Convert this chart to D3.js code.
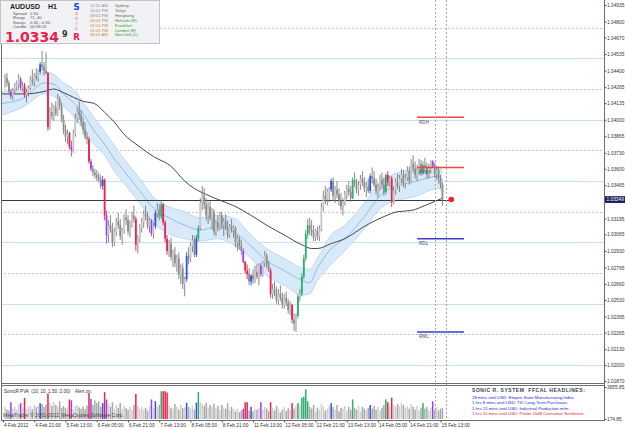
<!DOCTYPE html>
<html>
<head>
<meta charset="utf-8">
<script src="https://d3js.org/d3.v7.min.js"></script>
<style>
  body { margin: 0; background: #fff; }
  svg { display: block; font-family: "Liberation Sans", Arial, sans-serif; }
</style>
</head>
<body>
<script>
// AUDUSD H1 candles, 4 Feb - 15 Feb 2012
var opens = [1.0429,1.0434,1.0430,1.0423,1.0419,1.0424,1.0427,1.0429,1.0433,1.0426,
1.0428,1.0420,1.0422,1.0426,1.0433,1.0431,1.0436,1.0434,1.0439,1.0445,
1.0443,1.0440,1.0438,1.0394,1.0406,1.0403,1.0410,1.0405,1.0417,1.0411,
1.0400,1.0391,1.0386,1.0389,1.0378,1.0375,1.0389,1.0401,1.0407,1.0404,
1.0398,1.0392,1.0386,1.0384,1.0366,1.0360,1.0357,1.0355,1.0353,1.0351,
1.0346,1.0351,1.0322,1.0306,1.0314,1.0310,1.0300,1.0309,1.0317,1.0314,
1.0305,1.0310,1.0320,1.0318,1.0309,1.0315,1.0322,1.0319,1.0298,1.0303,
1.0312,1.0316,1.0323,1.0321,1.0313,1.0318,1.0307,1.0313,1.0324,1.0327,
1.0321,1.0331,1.0316,1.0303,1.0293,1.0299,1.0288,1.0290,1.0283,1.0287,
1.0274,1.0279,1.0266,1.0270,1.0289,1.0286,1.0297,1.0302,1.0290,1.0303,
1.0312,1.0332,1.0338,1.0331,1.0322,1.0329,1.0320,1.0325,1.0309,1.0316,
1.0312,1.0322,1.0314,1.0317,1.0312,1.0306,1.0313,1.0310,1.0312,1.0300,
1.0303,1.0297,1.0293,1.0284,1.0277,1.0274,1.0268,1.0273,1.0270,1.0276,
1.0272,1.0281,1.0274,1.0283,1.0289,1.0282,1.0277,1.0258,1.0262,1.0259,
1.0253,1.0258,1.0255,1.0249,1.0255,1.0251,1.0245,1.0249,1.0237,1.0234,
1.0240,1.0256,1.0258,1.0272,1.0287,1.0307,1.0314,1.0310,1.0308,1.0304,
1.0309,1.0305,1.0311,1.0329,1.0338,1.0335,1.0341,1.0343,1.0350,1.0338,
1.0343,1.0339,1.0334,1.0329,1.0333,1.0339,1.0344,1.0341,1.0336,1.0351,
1.0348,1.0343,1.0347,1.0352,1.0349,1.0344,1.0346,1.0342,1.0354,1.0352,
1.0347,1.0342,1.0345,1.0351,1.0347,1.0341,1.0355,1.0349,1.0352,1.0333,
1.0342,1.0349,1.0346,1.0352,1.0355,1.0348,1.0353,1.0358,1.0350,1.0364,
1.0360,1.0355,1.0360,1.0364,1.0357,1.0363,1.0361,1.0355,1.0360,1.0366,
1.0362,1.0356,1.0359,1.0352,1.0347];

var highs = [1.0437,1.0438,1.0432,1.0425,1.0426,1.0430,1.0432,1.0437,1.0435,1.0431,
1.0430,1.0425,1.0428,1.0436,1.0441,1.0438,1.0442,1.0441,1.0447,1.0456,
1.0447,1.0455,1.0439,1.0410,1.0414,1.0412,1.0415,1.0421,1.0419,1.0414,
1.0404,1.0396,1.0392,1.0390,1.0383,1.0392,1.0405,1.0410,1.0415,1.0408,
1.0402,1.0398,1.0390,1.0386,1.0368,1.0363,1.0360,1.0359,1.0357,1.0355,
1.0354,1.0352,1.0326,1.0318,1.0322,1.0316,1.0312,1.0320,1.0324,1.0319,
1.0312,1.0323,1.0327,1.0322,1.0318,1.0325,1.0330,1.0321,1.0306,1.0315,
1.0320,1.0326,1.0330,1.0325,1.0320,1.0319,1.0316,1.0326,1.0332,1.0331,
1.0334,1.0332,1.0318,1.0306,1.0302,1.0304,1.0294,1.0296,1.0290,1.0292,
1.0282,1.0283,1.0272,1.0292,1.0296,1.0300,1.0306,1.0305,1.0306,1.0314,
1.0336,1.0346,1.0344,1.0336,1.0333,1.0334,1.0328,1.0327,1.0318,1.0322,
1.0325,1.0325,1.0320,1.0323,1.0318,1.0315,1.0319,1.0314,1.0313,1.0306,
1.0305,1.0302,1.0295,1.0285,1.0282,1.0279,1.0274,1.0278,1.0281,1.0282,
1.0283,1.0283,1.0285,1.0293,1.0291,1.0285,1.0279,1.0266,1.0268,1.0264,
1.0262,1.0265,1.0259,1.0258,1.0260,1.0254,1.0252,1.0250,1.0242,1.0242,
1.0258,1.0262,1.0275,1.0290,1.0310,1.0319,1.0320,1.0318,1.0314,1.0311,
1.0313,1.0314,1.0332,1.0342,1.0346,1.0344,1.0345,1.0352,1.0353,1.0346,
1.0350,1.0344,1.0340,1.0336,1.0342,1.0347,1.0350,1.0346,1.0353,1.0357,
1.0352,1.0350,1.0355,1.0358,1.0353,1.0349,1.0352,1.0356,1.0361,1.0358,
1.0352,1.0348,1.0355,1.0357,1.0353,1.0356,1.0358,1.0354,1.0354,1.0345,
1.0352,1.0356,1.0355,1.0360,1.0359,1.0356,1.0362,1.0362,1.0368,1.0371,
1.0366,1.0363,1.0368,1.0367,1.0366,1.0369,1.0365,1.0364,1.0367,1.0367,
1.0365,1.0362,1.0361,1.0355,1.0349];

var lows = [1.0426,1.0427,1.0421,1.0417,1.0416,1.0421,1.0424,1.0425,1.0424,1.0423,
1.0418,1.0414,1.0419,1.0424,1.0428,1.0427,1.0432,1.0431,1.0437,1.0440,
1.0436,1.0437,1.0391,1.0392,1.0400,1.0399,1.0403,1.0403,1.0408,1.0398,
1.0388,1.0382,1.0380,1.0376,1.0370,1.0373,1.0386,1.0397,1.0400,1.0395,
1.0388,1.0384,1.0380,1.0364,1.0358,1.0354,1.0352,1.0350,1.0349,1.0344,
1.0343,1.0318,1.0299,1.0300,1.0308,1.0296,1.0297,1.0305,1.0311,1.0302,
1.0298,1.0307,1.0314,1.0306,1.0304,1.0312,1.0316,1.0293,1.0291,1.0300,
1.0308,1.0312,1.0318,1.0311,1.0308,1.0305,1.0303,1.0311,1.0320,1.0318,
1.0319,1.0314,1.0300,1.0290,1.0288,1.0285,1.0280,1.0280,1.0276,1.0270,
1.0266,1.0262,1.0256,1.0268,1.0282,1.0284,1.0292,1.0288,1.0288,1.0301,
1.0310,1.0326,1.0327,1.0318,1.0315,1.0318,1.0310,1.0306,1.0305,1.0309,
1.0310,1.0311,1.0305,1.0310,1.0303,1.0304,1.0308,1.0304,1.0296,1.0293,
1.0294,1.0290,1.0283,1.0275,1.0270,1.0265,1.0265,1.0266,1.0267,1.0270,
1.0265,1.0272,1.0272,1.0280,1.0279,1.0276,1.0255,1.0254,1.0256,1.0250,
1.0249,1.0252,1.0246,1.0246,1.0248,1.0242,1.0241,1.0234,1.0228,1.0227,
1.0238,1.0252,1.0256,1.0270,1.0285,1.0303,1.0306,1.0305,1.0301,1.0301,
1.0302,1.0301,1.0309,1.0325,1.0331,1.0330,1.0333,1.0341,1.0334,1.0332,
1.0336,1.0330,1.0326,1.0322,1.0330,1.0335,1.0338,1.0333,1.0335,1.0345,
1.0340,1.0338,1.0343,1.0346,1.0341,1.0337,1.0340,1.0340,1.0348,1.0345,
1.0339,1.0336,1.0342,1.0344,1.0338,1.0339,1.0346,1.0345,1.0329,1.0331,
1.0339,1.0343,1.0341,1.0348,1.0345,1.0344,1.0350,1.0347,1.0349,1.0357,
1.0352,1.0350,1.0355,1.0354,1.0355,1.0358,1.0352,1.0352,1.0356,1.0361,
1.0353,1.0351,1.0348,1.0344,1.0330];

var closes = [1.0434,1.0430,1.0423,1.0419,1.0424,1.0427,1.0429,1.0433,1.0426,1.0428,
1.0420,1.0422,1.0426,1.0433,1.0431,1.0436,1.0434,1.0439,1.0445,1.0443,
1.0440,1.0438,1.0394,1.0406,1.0403,1.0410,1.0405,1.0417,1.0411,1.0400,
1.0391,1.0386,1.0389,1.0378,1.0375,1.0389,1.0401,1.0407,1.0404,1.0398,
1.0392,1.0386,1.0384,1.0366,1.0360,1.0357,1.0355,1.0353,1.0351,1.0346,
1.0351,1.0322,1.0306,1.0314,1.0310,1.0300,1.0309,1.0317,1.0314,1.0305,
1.0310,1.0320,1.0318,1.0309,1.0315,1.0322,1.0319,1.0298,1.0303,1.0312,
1.0316,1.0323,1.0321,1.0313,1.0318,1.0307,1.0313,1.0324,1.0327,1.0321,
1.0331,1.0316,1.0303,1.0293,1.0299,1.0288,1.0290,1.0283,1.0287,1.0274,
1.0279,1.0266,1.0270,1.0289,1.0286,1.0297,1.0302,1.0290,1.0303,1.0312,
1.0332,1.0338,1.0331,1.0322,1.0329,1.0320,1.0325,1.0309,1.0316,1.0312,
1.0322,1.0314,1.0317,1.0312,1.0306,1.0313,1.0310,1.0312,1.0300,1.0303,
1.0297,1.0293,1.0284,1.0277,1.0274,1.0268,1.0273,1.0270,1.0276,1.0272,
1.0281,1.0274,1.0283,1.0289,1.0282,1.0277,1.0258,1.0262,1.0259,1.0253,
1.0258,1.0255,1.0249,1.0255,1.0251,1.0245,1.0249,1.0237,1.0234,1.0240,
1.0256,1.0258,1.0272,1.0287,1.0307,1.0314,1.0310,1.0308,1.0304,1.0309,
1.0305,1.0311,1.0329,1.0338,1.0335,1.0341,1.0343,1.0350,1.0338,1.0343,
1.0339,1.0334,1.0329,1.0333,1.0339,1.0344,1.0341,1.0336,1.0351,1.0348,
1.0343,1.0347,1.0352,1.0349,1.0344,1.0346,1.0342,1.0354,1.0352,1.0347,
1.0342,1.0345,1.0351,1.0347,1.0341,1.0355,1.0349,1.0352,1.0333,1.0342,
1.0349,1.0346,1.0352,1.0355,1.0348,1.0353,1.0358,1.0350,1.0364,1.0360,
1.0355,1.0360,1.0364,1.0357,1.0363,1.0361,1.0355,1.0360,1.0366,1.0362,
1.0356,1.0359,1.0352,1.0347,1.03349];

var volumes = [1500,1200,1100,2000,1300,1500,1200,1700,1900,1400,
2450,1300,1500,1600,1250,1700,1450,1600,1900,1800,
1500,1700,2950,1900,1600,2000,1700,1550,2100,1400,
1600,1350,1500,2300,2200,1200,1600,1700,1450,1300,
1550,1250,1650,3000,2350,1700,2200,1900,2100,1500,
1900,3100,2300,1800,1500,2000,1300,1700,1400,1900,
1250,1600,1350,1150,1500,1100,1700,2900,1600,1300,
1500,1200,1400,1100,1550,2300,1400,2100,1500,1700,
3200,3200,3200,3050,1600,1400,1300,1800,1500,1200,
1700,1350,1450,1950,1500,1300,1600,1200,1950,3100,
2000,1800,1600,1950,1400,1700,1500,1800,1300,1600,
1200,1700,1450,1300,1900,1100,1500,1250,1000,1300,
900,1100,1300,2000,2000,1100,1500,1000,1300,1200,
1400,2000,1200,1500,1300,1000,2000,1400,1100,1600,
1300,900,1200,1500,1050,1350,1150,1900,1300,1600,
1900,1700,2500,2600,3400,2100,1500,1300,1700,1000,
1400,1200,1800,1500,1100,1300,1600,1900,1500,1200,
1700,1000,1400,1300,1600,1100,1500,1200,2300,1400,
1200,1600,1000,1500,1300,1100,1400,1700,1300,1600,
1200,1500,1100,1400,1700,2300,2000,1500,2500,1700,
1500,1800,1600,1900,1700,1400,1600,1300,1800,1500,
1200,1600,1100,1400,1900,1300,1500,1100,1400,2100,
1200,1500,1100,1300,1400];

// SonicR PVA signal bars: r climax bear, g climax bull, b rising bull, p rising bear
var pvaIdx  = [3,8,10,18,22,33,34,43,44,50,51,52,67,75,77,80,81,82,83,93,98,99,122,123,124,126,131,136,147,150,152,153,154,155,167,178,187,195,196,198,214,219];
var pvaType = ["p","p","r","b","r","r","p","r","p","b","r","p","r","p","b","g","r","r","r","b","b","g","p","r","r","b","p","r","r","g","g","g","g","g","b","g","b","g","r","r","g","p"];

// dragon band (EMA34 high / close / low) and EMA89, sampled by bar
var bandIdx = [-3,10,20,25,30,35,40,46,51,56,61,69,76,84,92,100,109,117,126,134,143,152,156,160,167,174,184,194,211,222,224];
var bandUp  = [1.0423,1.0425,1.0439,1.0437,1.0430,1.0425,1.0414,1.0401,1.0390,1.0379,1.0368,1.0352,1.0337,1.0329,1.0325,1.0320,1.0322,1.0320,1.0306,1.0295,1.0287,1.0279,1.0278,1.0287,1.0306,1.0314,1.0332,1.0352,1.0360,1.0362,1.0358];
var bandMid = [1.0413,1.0418,1.0430,1.0429,1.0421,1.0414,1.0405,1.0390,1.0380,1.0368,1.0358,1.0342,1.0328,1.0320,1.0314,1.0310,1.0313,1.0309,1.0297,1.0285,1.0277,1.0269,1.0267,1.0279,1.0295,1.0303,1.0321,1.0341,1.0350,1.0354,1.0350];
var bandLow = [1.0403,1.0411,1.0421,1.0419,1.0411,1.0403,1.0392,1.0379,1.0371,1.0358,1.0348,1.0332,1.0316,1.0307,1.0303,1.0301,1.0303,1.0298,1.0287,1.0273,1.0265,1.0257,1.0258,1.0269,1.0282,1.0293,1.0311,1.0330,1.0338,1.0344,1.0340];

var emaIdx = [-3,10,20,25,30,40,46,51,56,61,68,76,85,92,109,117,126,134,143,152,157,160,167,174,184,194,201,208,215,221,224];
var emaVal = [1.0421,1.0421,1.0423,1.0425,1.0422,1.0415,1.0413,1.0406,1.0398,1.0388,1.0379,1.0370,1.0362,1.0350,1.0335,1.0330,1.0322,1.0314,1.0306,1.0298,1.0295,1.0295,1.0299,1.0303,1.0313,1.0321,1.0325,1.0326,1.0330,1.0334,1.0336];

var bid = 1.03349;

// range levels drawn near the last bars
var rangeNames  = ["RDH","RWH","RDL","RML"];
var rangePrices = [1.0402,1.0361,1.0303,1.0227];

var solidLevels  = [1.0450,1.0400,1.0350,1.0300,1.0250,1.0200];
var dashedLevels = [1.0475,1.0425,1.0375,1.0325,1.0275,1.0225];
var markerIdx = [220.3,225.8];

// 1.03330 sits under the bid tag, so it is left out
var priceTicks = [1.04935,1.04800,1.04670,1.04535,1.04400,1.04265,1.04135,1.04000,1.03865,1.03730,1.03600,1.03465,1.03195,1.03065,1.02930,1.02795,1.02660,1.02530,1.02395,1.02265,1.02130,1.02000,1.01870];
var dateIdx = [0,16,32,48,64,80,96,112,128,144,160,176,192,208,224];
var dateLabels = ["4 Feb 2012","4 Feb 21:00","5 Feb 13:00","6 Feb 05:00","6 Feb 21:00","7 Feb 13:00","8 Feb 05:00","8 Feb 21:00","11 Feb 13:00","12 Feb 05:00","12 Feb 21:00","13 Feb 13:00","14 Feb 05:00","14 Feb 21:00","15 Feb 13:00"];

var infoNames  = ["Spread","Range","Swaps","Candle"];
var infoValues = ["2.00","71, 40","0.40, -0.30","00:58:25"];
var sonicLetters = ["o","n","i","c"];
var sessionTimes  = ["12:01 AM","10:01 PM","09:01 PM","03:01 PM","02:01 PM","01:01 PM","08:01 AM"];
var sessionCities = ["Sydney","Tokyo","Hongkong","Helsinki (R)","Frankfurt","London (R)","NewYork (L)"];

var headTitle = "SONIC R. SYSTEM  FFCAL HEADLINES:";
var headItems = ["28 mins until USD: Empire State Manufacturing Index",
                 "1 hrs 8 mins until USD: TIC Long-Term Purchases",
                 "1 hrs 15 mins until USD: Industrial Production m/m",
                 "1 hrs 55 mins until USD: Prelim UoM Consumer Sentiment"];

var W = 625, H = 429;
var svg = d3.select("body").append("svg").attr("width", W).attr("height", H);
svg.append("rect").attr("width", W).attr("height", H).attr("fill", "#fff");

var n = closes.length;
var x = d3.scaleLinear().domain([0, n - 1]).range([5, 5 + (n - 1) * 1.953]);
var y = d3.scaleLinear().domain([1.0187, 1.04935]).range([381, 5]);
var yv = d3.scaleLinear().domain([174.85, 3655.85]).range([419, 387]);

svg.append("clipPath").attr("id", "main").append("rect")
  .attr("x", 2).attr("y", 0).attr("width", 602).attr("height", 383);
svg.append("clipPath").attr("id", "sub").append("rect")
  .attr("x", 2).attr("y", 386).attr("width", 602).attr("height", 34);

var main = svg.append("g").attr("clip-path", "url(#main)");

// round-number levels
main.selectAll(".lvl").data(solidLevels).enter().append("line")
  .attr("x1", 0).attr("x2", 604)
  .attr("y1", function(d) { return Math.round(y(d)) + 0.5; })
  .attr("y2", function(d) { return Math.round(y(d)) + 0.5; })
  .attr("stroke", "#c9dff3").attr("stroke-width", 1);
main.selectAll(".dlvl").data(dashedLevels).enter().append("line")
  .attr("x1", 0).attr("x2", 604)
  .attr("y1", function(d) { return Math.round(y(d)) + 0.5; })
  .attr("y2", function(d) { return Math.round(y(d)) + 0.5; })
  .attr("stroke", "#c8c8c8").attr("stroke-dasharray", "2,2");

// vertical dotted markers over both windows
svg.selectAll(".mk").data(markerIdx).enter().append("line")
  .attr("x1", function(d) { return Math.round(x(d)) + 0.5; })
  .attr("x2", function(d) { return Math.round(x(d)) + 0.5; })
  .attr("y1", 0).attr("y2", 420)
  .attr("stroke", "#a8a8a8").attr("stroke-dasharray", "2,2");

// dragon band
var band = bandIdx.map(function(d, i) { return {i: d, up: bandUp[i], mid: bandMid[i], lo: bandLow[i]}; });
main.append("path").datum(band)
  .attr("d", d3.area().curve(d3.curveMonotoneX)
    .x(function(d) { return x(d.i); })
    .y0(function(d) { return y(d.lo); })
    .y1(function(d) { return y(d.up); }))
  .attr("fill", "#d8e9f9");
["up", "lo"].forEach(function(k) {
  main.append("path").datum(band)
    .attr("d", d3.line().curve(d3.curveMonotoneX)
      .x(function(d) { return x(d.i); }).y(function(d) { return y(d[k]); }))
    .attr("fill", "none").attr("stroke", "#b3d3f1").attr("stroke-width", 0.8);
});
main.append("path").datum(band)
  .attr("d", d3.line().curve(d3.curveMonotoneX)
    .x(function(d) { return x(d.i); }).y(function(d) { return y(d.mid); }))
  .attr("fill", "none").attr("stroke", "#7fb2e3").attr("stroke-width", 0.8);

// EMA 89
main.append("path").datum(emaIdx.map(function(d, i) { return [d, emaVal[i]]; }))
  .attr("d", d3.line().curve(d3.curveMonotoneX)
    .x(function(d) { return x(d[0]); }).y(function(d) { return y(d[1]); }))
  .attr("fill", "none").attr("stroke", "#333").attr("stroke-width", 0.9);

// bid line
main.append("line")
  .attr("x1", 0).attr("x2", x(227.5))
  .attr("y1", Math.round(y(bid)) + 0.5).attr("y2", Math.round(y(bid)) + 0.5)
  .attr("stroke", "#3a3a3a");

// candles
var sig = {};
pvaIdx.forEach(function(d, i) { sig[d] = pvaType[i]; });
var pvaColor = {r: "#e8234f", g: "#2fae70", b: "#3452e0", p: "#a23ee8"};
var bars = d3.range(n);

function bodyColor(i) {
  if (sig[i]) return pvaColor[sig[i]];
  return closes[i] >= opens[i] ? "#c9c9c9" : "#8d8d8d";
}

main.selectAll(".wick").data(bars).enter().append("line")
  .attr("x1", function(i) { return x(i); }).attr("x2", function(i) { return x(i); })
  .attr("y1", function(i) { return y(highs[i]); }).attr("y2", function(i) { return y(lows[i]); })
  .attr("stroke", function(i) { return sig[i] ? pvaColor[sig[i]] : "#7b7b7b"; })
  .attr("stroke-width", 0.9);

main.selectAll(".body").data(bars).enter().append("rect")
  .attr("x", function(i) { return x(i) - 0.9; })
  .attr("width", 1.8)
  .attr("y", function(i) { return y(Math.max(opens[i], closes[i])); })
  .attr("height", function(i) { return Math.max(1, Math.abs(y(opens[i]) - y(closes[i]))); })
  .attr("fill", bodyColor);

// range lines
var rangeG = main.selectAll(".rng").data(rangePrices).enter().append("g");
rangeG.append("line")
  .attr("x1", x(211)).attr("x2", x(235))
  .attr("y1", function(d) { return y(d); }).attr("y2", function(d) { return y(d); })
  .attr("stroke", function(d, i) { return i < 2 ? "#f0463c" : "#3c3cc8"; })
  .attr("stroke-width", 1.4);
rangeG.append("text")
  .attr("x", x(212)).attr("y", function(d) { return y(d) + 6.5; })
  .attr("font-size", 4.6).attr("fill", "#4a4a78")
  .text(function(d, i) { return rangeNames[i]; });

// current price dot
main.append("circle").attr("cx", x(228.5)).attr("cy", y(bid)).attr("r", 2.8).attr("fill", "#ff1e1e");

// volume window
var sub = svg.append("g").attr("clip-path", "url(#sub)");
sub.selectAll(".vol").data(bars).enter().append("rect")
  .attr("x", function(i) { return x(i) - 0.75; })
  .attr("width", 1.5)
  .attr("y", function(i) { return yv(volumes[i]); })
  .attr("height", function(i) { return 419 - yv(volumes[i]); })
  .attr("fill", function(i) {
    if (sig[i]) return pvaColor[sig[i]];
    return closes[i] >= opens[i] ? "#cfcfcf" : "#a9a9a9";
  });

svg.append("text").attr("x", 4).attr("y", 392.5).attr("font-size", 4.6).attr("fill", "#333")
  .attr("xml:space", "preserve").text("SonicR PVA  (10, 10, 1.50, 2.00)    Alert on.");
svg.append("text").attr("x", 3).attr("y", 417).attr("font-size", 5).attr("fill", "#444")
  .text("MetaTrader \u00a9 2001-2012, MetaQuotes Software Corp.");

// headlines
svg.append("text").attr("x", 472).attr("y", 391.5).attr("font-size", 5).attr("font-weight", "bold")
  .attr("letter-spacing", 0.55).attr("fill", "#3c3c5a").attr("xml:space", "preserve").text(headTitle);
svg.selectAll(".hl").data(headItems).enter().append("text")
  .attr("x", 472).attr("y", function(d, i) { return 398.5 + i * 5.5; })
  .attr("font-size", 4.3)
  .attr("fill", function(d, i) { return i === 3 ? "#e5203c" : "#2323d8"; })
  .text(function(d) { return d; });

// frame
var frame = svg.append("g").attr("stroke", "#6e6e6e").attr("fill", "none");
frame.append("line").attr("x1", 1.5).attr("x2", 1.5).attr("y1", 0).attr("y2", 420);
frame.append("line").attr("x1", 1).attr("x2", 604).attr("y1", 383.5).attr("y2", 383.5);
frame.append("line").attr("x1", 1).attr("x2", 604).attr("y1", 385.5).attr("y2", 385.5);
frame.append("line").attr("x1", 1).attr("x2", 604).attr("y1", 420.5).attr("y2", 420.5);
frame.append("line").attr("x1", 604.5).attr("x2", 604.5).attr("y1", 0).attr("y2", 421);

// price axis
var yAxis = svg.append("g").attr("transform", "translate(604.5,0)")
  .call(d3.axisRight(y).tickValues(priceTicks).tickFormat(d3.format(".5f")).tickSize(2).tickPadding(0.5));
yAxis.select(".domain").remove();
yAxis.attr("font-size", 4.8).attr("font-family", "Liberation Sans, Arial, sans-serif");
yAxis.selectAll("line").attr("stroke", "#555");
yAxis.selectAll("text").attr("fill", "#333");

// current price tag
svg.append("rect").attr("x", 605).attr("y", y(bid) - 3.4).attr("width", 20).attr("height", 6.8).attr("fill", "#1d1d5c");
svg.append("text").attr("x", 606.5).attr("y", y(bid) + 1.7).attr("font-size", 4.8).attr("fill", "#fff")
  .text(d3.format(".5f")(bid));

// volume axis
var vAxis = svg.append("g").attr("transform", "translate(604.5,0)")
  .call(d3.axisRight(yv).tickValues([3655.85, 174.85]).tickFormat(d3.format(".2f")).tickSize(2).tickPadding(0.5));
vAxis.select(".domain").remove();
vAxis.attr("font-size", 4.8).attr("font-family", "Liberation Sans, Arial, sans-serif");
vAxis.selectAll("line").attr("stroke", "#555");
vAxis.selectAll("text").attr("fill", "#333");

// time axis
var xAxis = svg.append("g").attr("transform", "translate(0,420.5)")
  .call(d3.axisBottom(x).tickValues(dateIdx).tickFormat(function(d, i) { return dateLabels[i]; }).tickSize(2).tickPadding(1));
xAxis.select(".domain").remove();
xAxis.attr("font-size", 4.8).attr("font-family", "Liberation Sans, Arial, sans-serif").attr("text-anchor", "start");
xAxis.selectAll("line").attr("stroke", "#555").attr("transform", "translate(-2,0)");
xAxis.selectAll("text").attr("x", -1.5).attr("fill", "#333");

// info panel
var panel = svg.append("g");
panel.append("rect").attr("x", 0.5).attr("y", 0.5).attr("width", 159).attr("height", 43)
  .attr("fill", "#f2f2f5").attr("stroke", "#c2c2ca");
panel.append("text").attr("x", 10).attr("y", 9).attr("font-size", 7).attr("font-weight", "bold")
  .attr("fill", "#1e1e1e").text("AUDUSD");
panel.append("text").attr("x", 48).attr("y", 9).attr("font-size", 7).attr("font-weight", "bold")
  .attr("fill", "#1e1e1e").text("H1");
panel.selectAll(".inf").data(infoNames).enter().append("text")
  .attr("x", 13).attr("y", function(d, i) { return 14.8 + i * 4.5; })
  .attr("font-size", 4.2).attr("fill", "#555").text(function(d) { return d; });
panel.selectAll(".infv").data(infoValues).enter().append("text")
  .attr("x", 30).attr("y", function(d, i) { return 14.8 + i * 4.5; })
  .attr("font-size", 4.2).attr("fill", "#555").text(function(d) { return d; });
panel.append("text").attr("x", 5).attr("y", 42).attr("font-size", 14).attr("font-weight", "bold")
  .attr("font-family", "DejaVu Sans, sans-serif").attr("fill", "#e8214e").text("1.0334");
panel.append("text").attr("x", 62).attr("y", 37).attr("font-size", 8).attr("font-weight", "bold")
  .attr("font-family", "DejaVu Sans, sans-serif").attr("fill", "#333").text("9");
panel.append("text").attr("x", 76.5).attr("y", 9.5).attr("font-size", 8.5).attr("font-weight", "bold")
  .attr("text-anchor", "middle").attr("font-family", "DejaVu Sans, sans-serif").attr("fill", "#1f3fe0").text("S");
panel.selectAll(".son").data(sonicLetters).enter().append("text")
  .attr("x", 76.5).attr("y", function(d, i) { return 15 + i * 5; })
  .attr("font-size", 4.6).attr("text-anchor", "middle").attr("fill", "#d4587a").text(function(d) { return d; });
panel.append("text").attr("x", 76.5).attr("y", 40).attr("font-size", 8.5).attr("font-weight", "bold")
  .attr("text-anchor", "middle").attr("font-family", "DejaVu Sans, sans-serif").attr("fill", "#e8214e").text("R");
panel.selectAll(".st").data(sessionTimes).enter().append("text")
  .attr("x", 90).attr("y", function(d, i) { return 7 + i * 4.9; })
  .attr("font-size", 4.2).attr("fill", function(d, i) { return i < 3 ? "#8a8a8a" : "#c8843a"; })
  .text(function(d) { return d; });
panel.selectAll(".sc").data(sessionCities).enter().append("text")
  .attr("x", 115).attr("y", function(d, i) { return 7 + i * 4.9; })
  .attr("font-size", 4.2).attr("fill", function(d, i) { return i < 3 ? "#6a6a6a" : "#2a9c2a"; })
  .text(function(d) { return d; });
</script>
</body>
</html>
